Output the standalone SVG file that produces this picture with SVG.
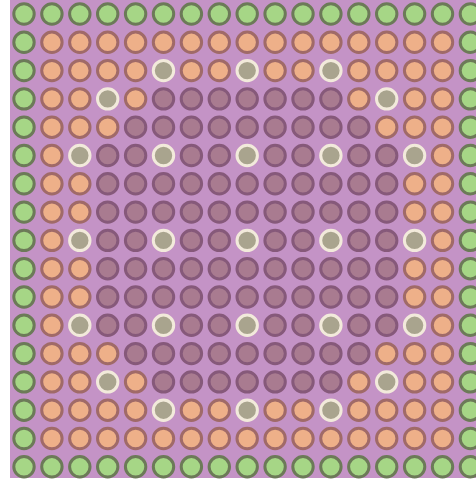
<svg xmlns="http://www.w3.org/2000/svg" xmlns:xlink="http://www.w3.org/1999/xlink" width="476" height="482" viewBox="0 0 476 482">
<style>
circle{stroke-width:3}
.g{fill:#a6d686;stroke:#6c7a58}
.o{fill:#eeb089;stroke:#a06a68}
.m{fill:#a97b90;stroke:#86597a}
.w{fill:#a9a48e;stroke:#f2eadb}
</style>
<defs>
<g id="rowG">
<circle class="g" cx="24" r="10.2"/><circle class="g" cx="51.9" r="10.2"/><circle class="g" cx="79.8" r="10.2"/><circle class="g" cx="107.7" r="10.2"/><circle class="g" cx="135.6" r="10.2"/><circle class="g" cx="163.5" r="10.2"/><circle class="g" cx="191.4" r="10.2"/><circle class="g" cx="219.3" r="10.2"/><circle class="g" cx="247.2" r="10.2"/><circle class="g" cx="275.1" r="10.2"/><circle class="g" cx="303" r="10.2"/><circle class="g" cx="330.9" r="10.2"/><circle class="g" cx="358.8" r="10.2"/><circle class="g" cx="386.7" r="10.2"/><circle class="g" cx="414.6" r="10.2"/><circle class="g" cx="442.5" r="10.2"/><circle class="g" cx="470.4" r="10.2"/>
</g>
<g id="rowO">
<circle class="g" cx="24" r="10.2"/><circle class="o" cx="51.9" r="10.2"/><circle class="o" cx="79.8" r="10.2"/><circle class="o" cx="107.7" r="10.2"/><circle class="o" cx="135.6" r="10.2"/><circle class="o" cx="163.5" r="10.2"/><circle class="o" cx="191.4" r="10.2"/><circle class="o" cx="219.3" r="10.2"/><circle class="o" cx="247.2" r="10.2"/><circle class="o" cx="275.1" r="10.2"/><circle class="o" cx="303" r="10.2"/><circle class="o" cx="330.9" r="10.2"/><circle class="o" cx="358.8" r="10.2"/><circle class="o" cx="386.7" r="10.2"/><circle class="o" cx="414.6" r="10.2"/><circle class="o" cx="442.5" r="10.2"/><circle class="g" cx="470.4" r="10.2"/>
</g>
<g id="rowA">
<circle class="g" cx="24" r="10.2"/><circle class="o" cx="51.9" r="10.2"/><circle class="o" cx="79.8" r="10.2"/><circle class="o" cx="107.7" r="10.2"/><circle class="o" cx="135.6" r="10.2"/><circle class="w" cx="163.5" r="10.2"/><circle class="o" cx="191.4" r="10.2"/><circle class="o" cx="219.3" r="10.2"/><circle class="w" cx="247.2" r="10.2"/><circle class="o" cx="275.1" r="10.2"/><circle class="o" cx="303" r="10.2"/><circle class="w" cx="330.9" r="10.2"/><circle class="o" cx="358.8" r="10.2"/><circle class="o" cx="386.7" r="10.2"/><circle class="o" cx="414.6" r="10.2"/><circle class="o" cx="442.5" r="10.2"/><circle class="g" cx="470.4" r="10.2"/>
</g>
<g id="rowB">
<circle class="g" cx="24" r="10.2"/><circle class="o" cx="51.9" r="10.2"/><circle class="o" cx="79.8" r="10.2"/><circle class="w" cx="107.7" r="10.2"/><circle class="o" cx="135.6" r="10.2"/><circle class="m" cx="163.5" r="10.2"/><circle class="m" cx="191.4" r="10.2"/><circle class="m" cx="219.3" r="10.2"/><circle class="m" cx="247.2" r="10.2"/><circle class="m" cx="275.1" r="10.2"/><circle class="m" cx="303" r="10.2"/><circle class="m" cx="330.9" r="10.2"/><circle class="o" cx="358.8" r="10.2"/><circle class="w" cx="386.7" r="10.2"/><circle class="o" cx="414.6" r="10.2"/><circle class="o" cx="442.5" r="10.2"/><circle class="g" cx="470.4" r="10.2"/>
</g>
<g id="rowC">
<circle class="g" cx="24" r="10.2"/><circle class="o" cx="51.9" r="10.2"/><circle class="o" cx="79.8" r="10.2"/><circle class="o" cx="107.7" r="10.2"/><circle class="m" cx="135.6" r="10.2"/><circle class="m" cx="163.5" r="10.2"/><circle class="m" cx="191.4" r="10.2"/><circle class="m" cx="219.3" r="10.2"/><circle class="m" cx="247.2" r="10.2"/><circle class="m" cx="275.1" r="10.2"/><circle class="m" cx="303" r="10.2"/><circle class="m" cx="330.9" r="10.2"/><circle class="m" cx="358.8" r="10.2"/><circle class="o" cx="386.7" r="10.2"/><circle class="o" cx="414.6" r="10.2"/><circle class="o" cx="442.5" r="10.2"/><circle class="g" cx="470.4" r="10.2"/>
</g>
<g id="rowD">
<circle class="g" cx="24" r="10.2"/><circle class="o" cx="51.9" r="10.2"/><circle class="w" cx="79.8" r="10.2"/><circle class="m" cx="107.7" r="10.2"/><circle class="m" cx="135.6" r="10.2"/><circle class="w" cx="163.5" r="10.2"/><circle class="m" cx="191.4" r="10.2"/><circle class="m" cx="219.3" r="10.2"/><circle class="w" cx="247.2" r="10.2"/><circle class="m" cx="275.1" r="10.2"/><circle class="m" cx="303" r="10.2"/><circle class="w" cx="330.9" r="10.2"/><circle class="m" cx="358.8" r="10.2"/><circle class="m" cx="386.7" r="10.2"/><circle class="w" cx="414.6" r="10.2"/><circle class="o" cx="442.5" r="10.2"/><circle class="g" cx="470.4" r="10.2"/>
</g>
<g id="rowE">
<circle class="g" cx="24" r="10.2"/><circle class="o" cx="51.9" r="10.2"/><circle class="o" cx="79.8" r="10.2"/><circle class="m" cx="107.7" r="10.2"/><circle class="m" cx="135.6" r="10.2"/><circle class="m" cx="163.5" r="10.2"/><circle class="m" cx="191.4" r="10.2"/><circle class="m" cx="219.3" r="10.2"/><circle class="m" cx="247.2" r="10.2"/><circle class="m" cx="275.1" r="10.2"/><circle class="m" cx="303" r="10.2"/><circle class="m" cx="330.9" r="10.2"/><circle class="m" cx="358.8" r="10.2"/><circle class="m" cx="386.7" r="10.2"/><circle class="o" cx="414.6" r="10.2"/><circle class="o" cx="442.5" r="10.2"/><circle class="g" cx="470.4" r="10.2"/>
</g>
</defs>
<rect x="0" y="0" width="476" height="482" fill="#ffffff"/>
<rect x="10" y="0" width="466" height="478" fill="#c493c6"/>
<use xlink:href="#rowG" y="14"/>
<use xlink:href="#rowO" y="42.3"/>
<use xlink:href="#rowA" y="70.6"/>
<use xlink:href="#rowB" y="98.9"/>
<use xlink:href="#rowC" y="127.2"/>
<use xlink:href="#rowD" y="155.5"/>
<use xlink:href="#rowE" y="183.8"/>
<use xlink:href="#rowE" y="212.1"/>
<use xlink:href="#rowD" y="240.4"/>
<use xlink:href="#rowE" y="268.7"/>
<use xlink:href="#rowE" y="297"/>
<use xlink:href="#rowD" y="325.3"/>
<use xlink:href="#rowC" y="353.6"/>
<use xlink:href="#rowB" y="381.9"/>
<use xlink:href="#rowA" y="410.2"/>
<use xlink:href="#rowO" y="438.5"/>
<use xlink:href="#rowG" y="466.8"/>
</svg>
